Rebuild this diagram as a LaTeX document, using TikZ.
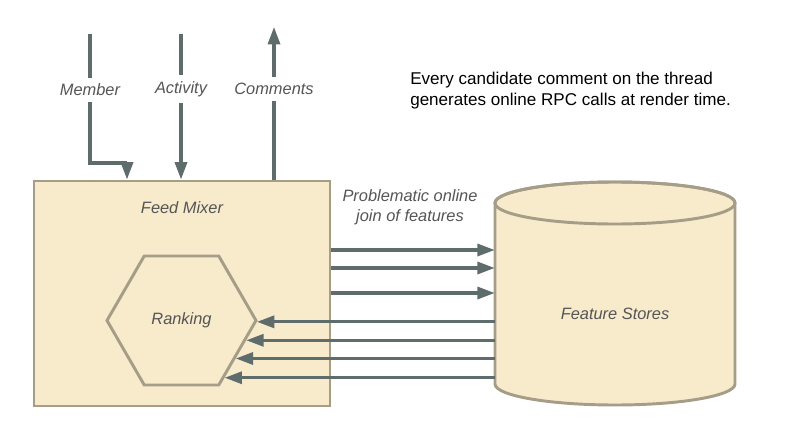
\documentclass[tikz,border=0pt]{standalone}
\usepackage{fontspec}
\setmainfont{Liberation Sans}
\usetikzlibrary{shapes.geometric,arrows.meta}

\definecolor{boxfill}{HTML}{F7EBCC}
\definecolor{boxline}{HTML}{A69D88}
\definecolor{flowcol}{HTML}{5E6C6C}
\definecolor{lblcol}{HTML}{555555}

\begin{document}
\begin{tikzpicture}[x=0.75pt,y=-0.75pt,
  flow/.style={draw=flowcol,line width=2.4pt},
  tip/.style={-{Triangle[length=13pt,width=9pt]}},
  lbl/.style={font=\fontsize{12.3}{15}\selectfont\itshape,text=lblcol,fill=white,inner sep=4.5pt},
  inlbl/.style={font=\fontsize{12.3}{15}\selectfont\itshape,text=lblcol,inner sep=0.75pt}]
\useasboundingbox (0,0) rectangle (800,428);

% Feed mixer box
\node [draw=boxline,fill=boxfill,line width=2.2pt,minimum width=222pt,minimum height=168.75pt,inner sep=0pt] (mixer) at (182,293.5) {};
\node [inlbl] (mixtxt) at (182,208) {Feed Mixer};

% Ranking hexagon
\node [regular polygon,regular polygon sides=6,draw=boxline,fill=boxfill,line width=2.2pt,minimum size=111.75pt,inner sep=0pt] (hex) at (181.5,320.5) {};
\node [inlbl] at (hex.center) {Ranking};

% Feature store cylinder
\path [fill=boxfill,draw=boxline,line width=2.2pt] (495,203) -- (495,384) arc (180:0:120 and 21) -- (735,203) arc (360:180:120 and 21) -- cycle;
\draw [boxline,line width=2.2pt] (615,203) ellipse (120 and 21);
\node [inlbl,minimum width=180pt] (fs) at (615,314) {Feature Stores};

% Inputs and outputs on top
\coordinate (mem) at (90,34);
\coordinate (mem-bend) at (90,163);
\coordinate (mem-in) at (127,181);
\coordinate (act) at (181,34);
\coordinate (com) at (274,27);
\node [lbl] (l-mem) at (90,90) {Member};
\node [lbl] (l-act) at (181,89) {Activity};
\node [lbl] (l-com) at (274,89) {Comments};

\draw [flow] (mem) -- (l-mem);
\draw [flow,tip] (l-mem) -- (mem-bend) -| (mem-in |- mixer.north);
\draw [flow] (act) -- (l-act);
\draw [flow,tip] (l-act) -- (l-act |- mixer.north);
\draw [flow] (com |- mixer.north) -- (l-com);
\draw [flow,tip] (l-com) -- (com);

% Online joins
\node [inlbl,align=center] (join) at (410,207) {Problematic online\\join of features};
\foreach \y in {250,268,293}
  \draw [flow,tip] (mixer.east |- 0,\y) -- (fs.west |- 0,\y);
\foreach \a in {-1,-17.1,-35.4,-53.5}
  \draw [flow,tip] (fs.west |- hex.\a) -- (hex.\a);

% Note
\node [anchor=west,align=left,inner sep=0pt,font=\fontsize{12.8}{15.8}\selectfont] (note) at (410,91) {Every candidate comment on the thread\\generates online RPC calls at render time.};

\end{tikzpicture}
\end{document}
